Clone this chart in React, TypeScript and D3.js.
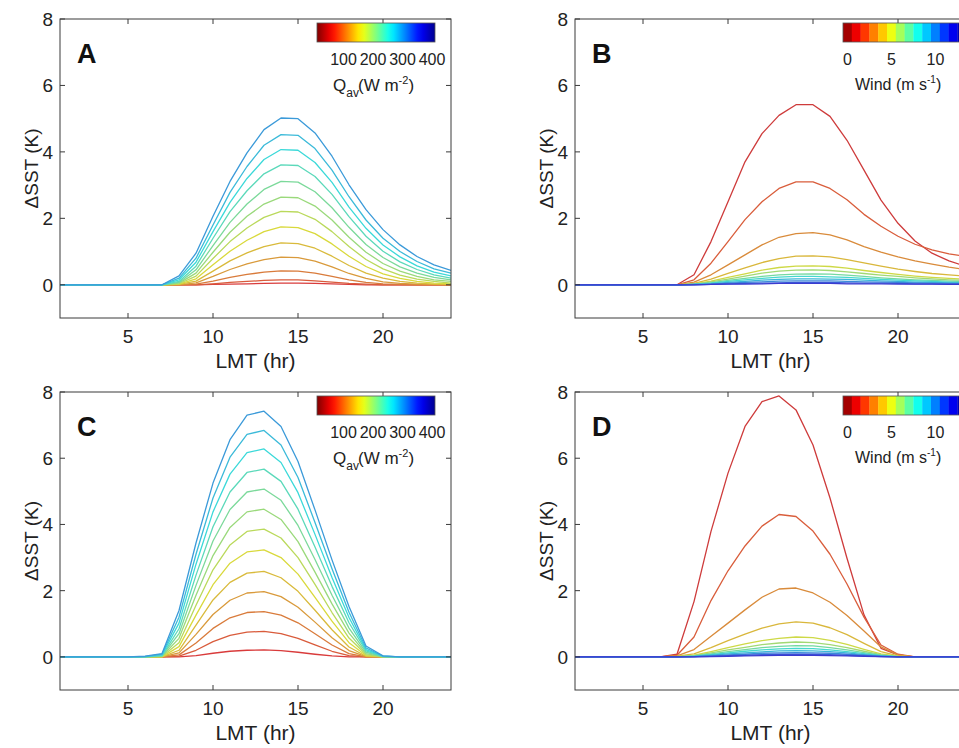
import React from "react";
import * as d3 from "d3";

const HOURS = [1, 2, 3, 4, 5, 6, 7, 8, 9, 10, 11, 12, 13, 14, 15, 16, 17, 18, 19, 20, 21, 22, 23, 24];
const Y_TICKS = [0, 2, 4, 6, 8];
const X_TICKS = [5, 10, 15, 20];
const Q_VALUES = [60, 80, 100, 120, 140, 160, 180, 200, 220, 240, 260, 280, 300];
const WIND_VALUES = [1, 2, 3, 4, 5, 6, 7, 8, 9, 10, 11, 12];
const Q_BAR_TICKS = [100, 200, 300, 400];
const WIND_BAR_TICKS = [0, 5, 10];
const WIND_BINS = [0, 1, 2, 3, 4, 5, 6, 7, 8, 9, 10, 11, 12, 13];

// Panel A: ΔSST vs hour for each Q_av (60..300 W m-2)
const panelA = [
  [0, 0, 0, 0, 0, 0, 0, 0, 0, 0.01, 0.02, 0.03, 0.04, 0.05, 0.05, 0.04, 0.03, 0.01, 0, 0, 0, 0, 0, 0],
  [0, 0, 0, 0, 0, 0, 0, 0, 0, 0.03, 0.07, 0.1, 0.13, 0.15, 0.15, 0.12, 0.08, 0.04, 0.02, 0, 0, 0, 0, 0],
  [0, 0, 0, 0, 0, 0, 0, 0, 0.02, 0.11, 0.22, 0.31, 0.38, 0.42, 0.41, 0.35, 0.25, 0.15, 0.07, 0.03, 0.01, 0, 0, 0],
  [0, 0, 0, 0, 0, 0, 0, 0, 0.06, 0.25, 0.46, 0.63, 0.76, 0.83, 0.82, 0.71, 0.54, 0.34, 0.19, 0.09, 0.04, 0.02, 0.01, 0],
  [0, 0, 0, 0, 0, 0, 0, 0.01, 0.11, 0.41, 0.72, 0.96, 1.15, 1.26, 1.24, 1.1, 0.86, 0.58, 0.35, 0.2, 0.1, 0.05, 0.02, 0.01],
  [0, 0, 0, 0, 0, 0, 0, 0.02, 0.18, 0.6, 1.01, 1.34, 1.6, 1.74, 1.72, 1.54, 1.23, 0.86, 0.55, 0.33, 0.19, 0.1, 0.05, 0.03],
  [0, 0, 0, 0, 0, 0, 0, 0.03, 0.26, 0.79, 1.3, 1.71, 2.03, 2.21, 2.19, 1.97, 1.6, 1.15, 0.76, 0.48, 0.29, 0.17, 0.1, 0.05],
  [0, 0, 0, 0, 0, 0, 0, 0.05, 0.35, 0.98, 1.58, 2.06, 2.43, 2.64, 2.62, 2.37, 1.95, 1.43, 0.98, 0.64, 0.41, 0.25, 0.15, 0.1],
  [0, 0, 0, 0, 0, 0, 0, 0.07, 0.45, 1.18, 1.88, 2.43, 2.87, 3.11, 3.09, 2.8, 2.32, 1.73, 1.21, 0.82, 0.54, 0.35, 0.22, 0.15],
  [0, 0, 0, 0, 0, 0, 0, 0.1, 0.56, 1.4, 2.2, 2.83, 3.34, 3.61, 3.59, 3.26, 2.72, 2.05, 1.46, 1.01, 0.69, 0.46, 0.3, 0.2],
  [0, 0, 0, 0, 0, 0, 0, 0.15, 0.68, 1.6, 2.48, 3.2, 3.77, 4.07, 4.05, 3.68, 3.08, 2.34, 1.7, 1.2, 0.84, 0.57, 0.38, 0.27],
  [0, 0, 0, 0, 0, 0, 0, 0.2, 0.8, 1.8, 2.78, 3.56, 4.2, 4.52, 4.5, 4.1, 3.45, 2.65, 1.95, 1.4, 1.0, 0.7, 0.48, 0.35],
  [0, 0, 0, 0, 0, 0, 0, 0.27, 0.95, 2.06, 3.11, 3.97, 4.67, 5.02, 5.0, 4.57, 3.87, 3.01, 2.26, 1.66, 1.2, 0.85, 0.6, 0.43],
];

// Panel B: ΔSST vs hour for each wind speed (1..12 m s-1)
const panelB = [
  [0, 0, 0, 0, 0, 0, 0, 0.3, 1.3, 2.5, 3.7, 4.55, 5.1, 5.42, 5.42, 5.07, 4.35, 3.45, 2.55, 1.85, 1.32, 0.95, 0.72, 0.55],
  [0, 0, 0, 0, 0, 0, 0, 0.15, 0.65, 1.3, 1.96, 2.5, 2.9, 3.1, 3.1, 2.9, 2.56, 2.12, 1.76, 1.46, 1.22, 1.05, 0.93, 0.85],
  [0, 0, 0, 0, 0, 0, 0, 0.08, 0.3, 0.6, 0.9, 1.2, 1.43, 1.54, 1.57, 1.5, 1.35, 1.15, 0.98, 0.84, 0.72, 0.62, 0.53, 0.46],
  [0, 0, 0, 0, 0, 0, 0, 0.04, 0.17, 0.34, 0.51, 0.67, 0.79, 0.86, 0.87, 0.84, 0.76, 0.66, 0.56, 0.47, 0.4, 0.34, 0.3, 0.26],
  [0, 0, 0, 0, 0, 0, 0, 0.03, 0.11, 0.22, 0.33, 0.44, 0.52, 0.56, 0.57, 0.55, 0.5, 0.43, 0.37, 0.31, 0.26, 0.22, 0.19, 0.17],
  [0, 0, 0, 0, 0, 0, 0, 0.02, 0.09, 0.17, 0.26, 0.35, 0.41, 0.44, 0.45, 0.43, 0.39, 0.34, 0.29, 0.25, 0.21, 0.18, 0.15, 0.13],
  [0, 0, 0, 0, 0, 0, 0, 0.02, 0.06, 0.13, 0.19, 0.25, 0.3, 0.32, 0.33, 0.32, 0.29, 0.25, 0.21, 0.18, 0.15, 0.13, 0.11, 0.1],
  [0, 0, 0, 0, 0, 0, 0, 0.01, 0.05, 0.1, 0.15, 0.19, 0.23, 0.25, 0.25, 0.24, 0.22, 0.19, 0.16, 0.14, 0.12, 0.1, 0.08, 0.07],
  [0, 0, 0, 0, 0, 0, 0, 0.01, 0.03, 0.07, 0.1, 0.14, 0.16, 0.18, 0.18, 0.17, 0.16, 0.14, 0.12, 0.1, 0.08, 0.07, 0.06, 0.05],
  [0, 0, 0, 0, 0, 0, 0, 0.01, 0.02, 0.05, 0.07, 0.09, 0.11, 0.12, 0.12, 0.12, 0.1, 0.09, 0.08, 0.07, 0.06, 0.05, 0.04, 0.03],
  [0, 0, 0, 0, 0, 0, 0, 0, 0.01, 0.03, 0.04, 0.05, 0.06, 0.07, 0.07, 0.07, 0.06, 0.05, 0.05, 0.04, 0.03, 0.03, 0.02, 0.02],
  [0, 0, 0, 0, 0, 0, 0, 0, 0.01, 0.02, 0.02, 0.03, 0.04, 0.04, 0.04, 0.04, 0.03, 0.03, 0.03, 0.02, 0.02, 0.02, 0.01, 0.01],
];

// Panel C: ΔSST vs hour for each Q_av (60..300 W m-2)
const panelC = [
  [0, 0, 0, 0, 0, 0, 0, 0, 0.04, 0.11, 0.17, 0.2, 0.21, 0.19, 0.14, 0.08, 0.03, 0, 0, 0, 0, 0, 0, 0],
  [0, 0, 0, 0, 0, 0, 0, 0.02, 0.2, 0.46, 0.65, 0.75, 0.77, 0.7, 0.56, 0.36, 0.17, 0.04, 0, 0, 0, 0, 0, 0],
  [0, 0, 0, 0, 0, 0, 0, 0.06, 0.42, 0.86, 1.18, 1.34, 1.37, 1.26, 1.03, 0.7, 0.36, 0.1, 0, 0, 0, 0, 0, 0],
  [0, 0, 0, 0, 0, 0, 0, 0.12, 0.68, 1.28, 1.71, 1.93, 1.97, 1.82, 1.5, 1.05, 0.58, 0.19, 0.01, 0, 0, 0, 0, 0],
  [0, 0, 0, 0, 0, 0, 0, 0.2, 0.96, 1.72, 2.25, 2.53, 2.58, 2.39, 1.98, 1.41, 0.82, 0.3, 0.02, 0, 0, 0, 0, 0],
  [0, 0, 0, 0, 0, 0, 0, 0.31, 1.26, 2.18, 2.83, 3.17, 3.23, 3.0, 2.5, 1.8, 1.08, 0.43, 0.04, 0, 0, 0, 0, 0],
  [0, 0, 0, 0, 0, 0, 0.01, 0.43, 1.56, 2.63, 3.38, 3.79, 3.86, 3.59, 3.0, 2.19, 1.34, 0.57, 0.07, 0, 0, 0, 0, 0],
  [0, 0, 0, 0, 0, 0, 0.02, 0.56, 1.86, 3.06, 3.91, 4.38, 4.46, 4.15, 3.48, 2.56, 1.6, 0.72, 0.1, 0, 0, 0, 0, 0],
  [0, 0, 0, 0, 0, 0, 0.03, 0.7, 2.16, 3.5, 4.45, 4.98, 5.07, 4.73, 3.97, 2.94, 1.86, 0.87, 0.14, 0.01, 0, 0, 0, 0],
  [0, 0, 0, 0, 0, 0, 0.04, 0.85, 2.47, 3.93, 4.98, 5.57, 5.67, 5.3, 4.46, 3.32, 2.13, 1.03, 0.18, 0.01, 0, 0, 0, 0],
  [0, 0, 0, 0, 0, 0.01, 0.06, 1.02, 2.8, 4.38, 5.52, 6.17, 6.28, 5.87, 4.96, 3.7, 2.4, 1.19, 0.22, 0.02, 0, 0, 0, 0],
  [0, 0, 0, 0, 0, 0.01, 0.08, 1.2, 3.1, 4.8, 6.03, 6.72, 6.84, 6.4, 5.42, 4.06, 2.66, 1.35, 0.27, 0.02, 0, 0, 0, 0],
  [0, 0, 0, 0, 0, 0.02, 0.1, 1.4, 3.44, 5.25, 6.56, 7.3, 7.42, 6.96, 5.9, 4.44, 2.93, 1.52, 0.33, 0.03, 0, 0, 0, 0],
];

// Panel D: ΔSST vs hour for each wind speed (1..12 m s-1)
const panelD = [
  [0, 0, 0, 0, 0, 0, 0.08, 1.67, 3.79, 5.55, 6.96, 7.71, 7.88, 7.46, 6.4, 4.8, 2.98, 1.27, 0.26, 0.06, 0, 0, 0, 0],
  [0, 0, 0, 0, 0, 0, 0.05, 0.6, 1.7, 2.6, 3.35, 3.95, 4.3, 4.24, 3.8, 3.1, 2.2, 1.2, 0.36, 0.08, 0, 0, 0, 0],
  [0, 0, 0, 0, 0, 0, 0.03, 0.22, 0.62, 1.02, 1.42, 1.8, 2.05, 2.08, 1.93, 1.65, 1.25, 0.78, 0.3, 0.06, 0, 0, 0, 0],
  [0, 0, 0, 0, 0, 0, 0.02, 0.09, 0.28, 0.49, 0.69, 0.87, 1.0, 1.06, 1.02, 0.88, 0.67, 0.41, 0.16, 0.03, 0, 0, 0, 0],
  [0, 0, 0, 0, 0, 0, 0.01, 0.05, 0.16, 0.28, 0.39, 0.49, 0.56, 0.6, 0.58, 0.5, 0.38, 0.23, 0.09, 0.02, 0, 0, 0, 0],
  [0, 0, 0, 0, 0, 0, 0.01, 0.04, 0.12, 0.21, 0.29, 0.37, 0.42, 0.45, 0.43, 0.37, 0.28, 0.17, 0.07, 0.01, 0, 0, 0, 0],
  [0, 0, 0, 0, 0, 0, 0, 0.03, 0.09, 0.16, 0.22, 0.28, 0.32, 0.34, 0.33, 0.28, 0.21, 0.13, 0.05, 0.01, 0, 0, 0, 0],
  [0, 0, 0, 0, 0, 0, 0, 0.02, 0.07, 0.12, 0.17, 0.21, 0.24, 0.26, 0.25, 0.21, 0.16, 0.1, 0.04, 0.01, 0, 0, 0, 0],
  [0, 0, 0, 0, 0, 0, 0, 0.01, 0.05, 0.09, 0.12, 0.15, 0.18, 0.19, 0.18, 0.16, 0.12, 0.07, 0.03, 0, 0, 0, 0, 0],
  [0, 0, 0, 0, 0, 0, 0, 0.01, 0.03, 0.06, 0.08, 0.11, 0.12, 0.13, 0.12, 0.11, 0.08, 0.05, 0.02, 0, 0, 0, 0, 0],
  [0, 0, 0, 0, 0, 0, 0, 0.01, 0.02, 0.04, 0.05, 0.07, 0.08, 0.08, 0.08, 0.07, 0.05, 0.03, 0.01, 0, 0, 0, 0, 0],
  [0, 0, 0, 0, 0, 0, 0, 0, 0.01, 0.02, 0.03, 0.04, 0.05, 0.05, 0.05, 0.04, 0.03, 0.02, 0.01, 0, 0, 0, 0, 0],
];

const FONT = "'Liberation Sans', Arial, Helvetica, sans-serif";

// reversed jet colormap: low -> dark red, high -> navy
const reversedJet = d3
  .scaleLinear<string>()
  .domain([0, 0.125, 0.375, 0.625, 0.875, 1])
  .range(["#800000", "#ff0000", "#ffff00", "#00ffff", "#0000ff", "#00008f"])
  .interpolate(d3.interpolateRgb)
  .clamp(true);

const qT = d3.scaleLinear().domain([10, 410]).range([0, 1]);
const windT = d3.scaleLinear().domain([-0.5, 13.5]).range([0, 1]);
const qColor = (q: number) => reversedJet(qT(q));
const windColor = (w: number) => reversedJet(windT(w));
const mute = (c: string) => d3.interpolateRgb(c, "#9c9c9c")(0.38);

type PanelProps = {
  id: string;
  letter: string;
  left: number;
  top: number;
  height: number;
  series: number[][];
  values: number[];
  kind: "q" | "wind";
};

function Panel({ id, letter, left, top, height, series, values, kind }: PanelProps) {
  const width = 391;
  const right = left + width;
  const bottom = top + height;
  const x = d3.scaleLinear().domain([1, 24]).range([left, right]);
  const y = d3.scaleLinear().domain([-1, 8]).range([bottom, top]);
  const line = d3
    .line<number>()
    .x((_, i) => x(HOURS[i]))
    .y((d) => y(d));
  const colorOf = kind === "q" ? qColor : windColor;
  const axisColor = "#3a3a3a";
  const tickLen = 5;

  let bar: React.ReactNode = null;
  if (kind === "q") {
    const bx = d3.scaleLinear().domain([10, 410]).range([left + 257, left + 375]);
    const gradStops = d3.range(0, 1.0001, 0.05);
    bar = (
      <g>
        <defs>
          <linearGradient id={`grad-${id}`} x1="0" x2="1" y1="0" y2="0">
            {gradStops.map((s) => (
              <stop key={s} offset={s} stopColor={reversedJet(s)} />
            ))}
          </linearGradient>
        </defs>
        <rect
          x={bx(10)}
          y={top + 4}
          width={bx(410) - bx(10)}
          height={19}
          fill={`url(#grad-${id})`}
          stroke="#555"
          strokeWidth={0.8}
        />
        {Q_BAR_TICKS.map((t) => (
          <text key={t} x={bx(t)} y={top + 46} fontSize={16} textAnchor="middle" fill="#222">
            {t}
          </text>
        ))}
        <text x={left + 273} y={top + 72} fontSize={17} fill="#222">
          Q
          <tspan fontSize={12} dy={6}>
            av
          </tspan>
          <tspan x={left + 298} dy={-6} fontSize={17}>
            (W m
          </tspan>
          <tspan fontSize={11} dy={-7}>
            -2
          </tspan>
          <tspan fontSize={17} dy={7}>
            )
          </tspan>
        </text>
      </g>
    );
  } else {
    const bx = d3.scaleLinear().domain([-0.5, 13.5]).range([left + 268, left + 268 + 14 * 8.8]);
    bar = (
      <g>
        {WIND_BINS.map((k) => (
          <rect
            key={k}
            x={bx(k - 0.5)}
            y={top + 4}
            width={bx(k + 0.5) - bx(k - 0.5) + 0.3}
            height={19}
            fill={windColor(k)}
          />
        ))}
        <rect
          x={bx(-0.5)}
          y={top + 4}
          width={bx(13.5) - bx(-0.5)}
          height={19}
          fill="none"
          stroke="#555"
          strokeWidth={0.8}
        />
        {WIND_BAR_TICKS.map((t) => (
          <text key={t} x={bx(t)} y={top + 46} fontSize={16} textAnchor="middle" fill="#222">
            {t}
          </text>
        ))}
        <text x={left + 280} y={top + 71} fontSize={16} fill="#222">
          Wind (m s
          <tspan fontSize={10} dy={-7}>
            -1
          </tspan>
          <tspan fontSize={16} dy={7}>
            )
          </tspan>
        </text>
      </g>
    );
  }

  return (
    <g fontFamily={FONT}>
      <defs>
        <clipPath id={`clip-${id}`}>
          <rect x={left} y={top} width={width} height={height} />
        </clipPath>
      </defs>
      <g clipPath={`url(#clip-${id})`}>
        {series.map((s, i) => (
          <path
            key={i}
            d={line(s) || ""}
            fill="none"
            stroke={mute(colorOf(values[i]))}
            strokeWidth={1.3}
            strokeLinejoin="round"
          />
        ))}
      </g>
      <rect x={left} y={top} width={width} height={height} fill="none" stroke={axisColor} strokeWidth={1} />
      {X_TICKS.map((t) => (
        <g key={`x${t}`}>
          <line x1={x(t)} x2={x(t)} y1={bottom} y2={bottom - tickLen} stroke={axisColor} />
          <line x1={x(t)} x2={x(t)} y1={top} y2={top + tickLen} stroke={axisColor} />
          <text x={x(t)} y={bottom + 25} fontSize={19} textAnchor="middle" fill="#222">
            {t}
          </text>
        </g>
      ))}
      {Y_TICKS.map((t) => (
        <g key={`y${t}`}>
          <line x1={left} x2={left + tickLen} y1={y(t)} y2={y(t)} stroke={axisColor} />
          <line x1={right} x2={right - tickLen} y1={y(t)} y2={y(t)} stroke={axisColor} />
          <text x={left - 7} y={y(t) + 7} fontSize={19} textAnchor="end" fill="#222">
            {t}
          </text>
        </g>
      ))}
      <text x={(left + right) / 2} y={bottom + 50} fontSize={21} textAnchor="middle" fill="#222">
        LMT (hr)
      </text>
      <text
        transform={`translate(${left - 22},${(top + bottom) / 2}) rotate(-90)`}
        fontSize={19}
        textAnchor="middle"
        fill="#222"
      >
        ΔSST (K)
      </text>
      <text x={left + 17} y={top + 44} fontSize={27} fontWeight="bold" fill="#111">
        {letter}
      </text>
      {bar}
    </g>
  );
}

export default function App() {
  return (
    <svg
      width={959}
      height={748}
      style={{ position: "absolute", left: 0, top: 0, background: "#fff" }}
    >
      <rect x={0} y={0} width={959} height={748} fill="#fff" />
      <Panel id="A" letter="A" left={60} top={19} height={299} series={panelA} values={Q_VALUES} kind="q" />
      <Panel id="B" letter="B" left={575} top={19} height={299} series={panelB} values={WIND_VALUES} kind="wind" />
      <Panel id="C" letter="C" left={60} top={392} height={298} series={panelC} values={Q_VALUES} kind="q" />
      <Panel id="D" letter="D" left={575} top={392} height={298} series={panelD} values={WIND_VALUES} kind="wind" />
    </svg>
  );
}
